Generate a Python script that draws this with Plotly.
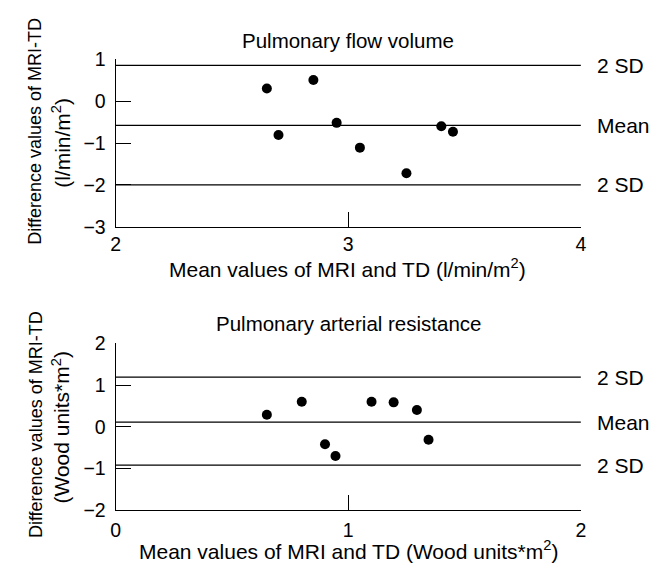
import plotly.graph_objects as go

# ---- data: Pulmonary flow volume ----
flow_mean = [2.65, 2.70, 2.85, 2.95, 3.05, 3.25, 3.40, 3.45]
flow_diff = [0.30, -0.81, 0.50, -0.52, -1.11, -1.72, -0.60, -0.73]
flow_lines = [0.85, -0.58, -2.0]          # +2SD, mean, -2SD
# ---- data: Pulmonary arterial resistance ----
res_mean = [0.65, 0.80, 0.90, 0.945, 1.10, 1.195, 1.295, 1.345]
res_diff = [0.29, 0.60, -0.42, -0.70, 0.60, 0.585, 0.40, -0.31]
res_lines = [1.19, 0.11, -0.92]
line_labels = ["2 SD", "Mean", "2 SD"]

flow_xticks = [2, 3, 4]
flow_yticks = [-3, -2, -1, 0, 1]
res_xticks = [0, 1, 2]
res_yticks = [-2, -1, 0, 1, 2]

FONT = "Liberation Sans"
W, H = 671, 577

fig = go.Figure()

def px_x(p):
    return p / W

def px_y(p):
    return 1 - p / H

panels = [
    dict(xa="x", ya="y", xs=flow_mean, ys=flow_diff, lines=flow_lines,
         xr=[2, 4], yr=[-3, 1]),
    dict(xa="x2", ya="y2", xs=res_mean, ys=res_diff, lines=res_lines,
         xr=[0, 2], yr=[-2, 2]),
]

for p in panels:
    for val, lab in zip(p["lines"], line_labels):
        fig.add_trace(go.Scatter(x=p["xr"], y=[val, val], mode="lines",
                                 line=dict(color="black", width=1.2),
                                 xaxis=p["xa"], yaxis=p["ya"],
                                 showlegend=False, hoverinfo="skip"))
        fig.add_annotation(x=p["xr"][1], y=val, xref=p["xa"], yref=p["ya"],
                           text=lab, showarrow=False, xanchor="left",
                           yanchor="middle", xshift=14,
                           font=dict(family=FONT, size=21, color="black"))
    fig.add_trace(go.Scatter(x=p["xs"], y=p["ys"], mode="markers",
                             marker=dict(color="black", size=10),
                             xaxis=p["xa"], yaxis=p["ya"], showlegend=False))

axis_common = dict(showline=True, linecolor="black", linewidth=1.2,
                   ticks="inside", ticklen=15, tickwidth=1.2, tickcolor="black",
                   showgrid=False, zeroline=False, mirror=False,
                   tickfont=dict(family=FONT, size=19.5, color="black"))

fig.update_layout(
    width=W, height=H,
    margin=dict(l=0, r=0, t=0, b=0),
    paper_bgcolor="white", plot_bgcolor="white",
    showlegend=False,
    xaxis=dict(axis_common, domain=[px_x(112.5), px_x(585.5)], range=[2, 4],
               tickvals=flow_xticks, anchor="y"),
    yaxis=dict(axis_common, domain=[px_y(224.5), px_y(50)], range=[-3, 1],
               tickvals=flow_yticks, anchor="x", ticklabelstandoff=5),
    xaxis2=dict(axis_common, domain=[px_x(112.5), px_x(585.5)], range=[0, 2],
                tickvals=res_xticks, anchor="y2", ticklabelstandoff=2),
    yaxis2=dict(axis_common, domain=[px_y(519), px_y(345.5)], range=[-2, 2],
                tickvals=res_yticks, anchor="x2", ticklabelstandoff=5),
)

texts = [
    ("Pulmonary flow volume", px_x(349), px_y(31), 0, 20.5),
    ("Mean values of MRI and TD (l/min/m<sup>2</sup>)", px_x(348), px_y(267), 0, 21),
    ("Pulmonary arterial resistance", px_x(349), px_y(325), 0, 20.5),
    ("Mean values of MRI and TD (Wood units*m<sup>2</sup>)", px_x(349), px_y(560), 0, 21),
    ("Difference values of MRI-TD", px_x(31), px_y(125), -90, 18),
    ("(l/min/m<sup>2</sup>)", px_x(57), px_y(137), -90, 21),
    ("Difference values of MRI-TD", px_x(31), px_y(430), -90, 18),
    ("(Wood units*m<sup>2</sup>)", px_x(57), px_y(433), -90, 21),
]
for t, x, y, ang, fs in texts:
    fig.add_annotation(x=x, y=y, xref="paper", yref="paper", text=t,
                       showarrow=False, xanchor="center", yanchor="middle",
                       textangle=ang,
                       font=dict(family=FONT, size=fs, color="black"))

fig.write_html("out.html",
               post_script="document.body.style.margin='0';document.body.style.overflow='hidden';",
               config={"displayModeBar": False})
